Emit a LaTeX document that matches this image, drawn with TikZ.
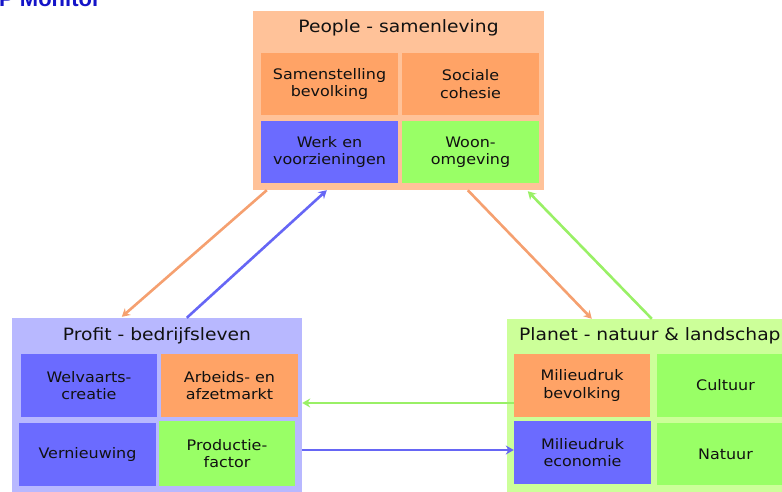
\documentclass[tikz,border=0pt]{standalone}
\usepackage{fontspec}
\setmainfont{DejaVu Sans}[FakeStretch=1.1]
\newfontfamily\cellfont{DejaVu Sans}[FakeStretch=1.1]
\newfontfamily\logofont{Liberation Sans}
\usetikzlibrary{arrows.meta}
\definecolor{peopleBg}{HTML}{FFC299}
\definecolor{profitBg}{HTML}{B8B8FF}
\definecolor{planetBg}{HTML}{CCFF99}
\definecolor{cOrange}{HTML}{FFA366}
\definecolor{cBlue}{HTML}{6B6BFF}
\definecolor{cGreen}{HTML}{99FF66}
\definecolor{aOrange}{HTML}{F5A070}
\definecolor{aBlue}{HTML}{6666F5}
\definecolor{aGreen}{HTML}{99F066}
\definecolor{txt}{HTML}{111111}
\definecolor{logoBlue}{HTML}{1414C8}
\begin{document}
\begin{tikzpicture}[x=1pt,y=-1pt,
  outer/.style={rectangle,inner sep=0pt,draw=none},
  cell/.style={rectangle,inner sep=0pt,draw=none,minimum width=137pt,minimum height=63pt,
    align=center,text=txt,font=\cellfont\fontsize{14.5}{17.5}\selectfont},
  ttl/.style={inner sep=0pt,text=txt,font=\fontsize{17}{20}\selectfont},
  conn/.style={line width=2.6pt,-{Stealth[length=8pt,width=9pt]}}]
\useasboundingbox (0,0) rectangle (782,491);
\clip (0,0) rectangle (782,491);
% logo text
\node[anchor=base west,inner sep=0pt,text=logoBlue,font=\logofont\bfseries\fontsize{22}{24}\selectfont] (logo) at (-1,6.5) {P Monitor};
% People
\node[outer,fill=peopleBg,minimum width=291pt,minimum height=179pt] (people) at (398.5,100.5) {};
\node[ttl,anchor=base] (peopleT) at (398.5,32) {People - samenleving};
\node[cell,fill=cOrange,minimum height=62pt] (samen) at (329.5,84) {Samenstelling\\bevolking};
\node[cell,fill=cOrange,minimum height=62pt] (sociale) at (470.5,84) {Sociale\\cohesie};
\node[cell,fill=cBlue,minimum height=62pt] (werk) at (329.5,152) {Werk en\\voorzieningen};
\node[cell,fill=cGreen,minimum height=62pt] (woon) at (470.5,152) {Woon-\\omgeving};
% Profit
\node[outer,fill=profitBg,minimum width=290pt,minimum height=176pt] (profit) at (157,406) {};
\node[ttl,anchor=base] (profitT) at (157,340) {Profit - bedrijfsleven};
\node[cell,fill=cBlue,minimum width=136pt] (welv) at (89,385.5) {Welvaarts-\\creatie};
\node[cell,fill=cOrange] (arb) at (229.5,385.5) {Arbeids- en\\afzetmarkt};
\node[cell,fill=cBlue] (vern) at (87.5,454.5) {Vernieuwing};
\node[cell,fill=cGreen,minimum width=136pt,minimum height=65pt] (prod) at (227,453.5) {Productie-\\factor};
% Planet
\node[outer,fill=planetBg,minimum width=290pt,minimum height=175pt] (planet) at (652,406.5) {};
\node[ttl,anchor=base west] (planetT) at (519,340) {Planet - natuur \& landschap};
\node[cell,fill=cOrange,minimum width=136pt] (mbev) at (582,385.5) {Milieudruk\\bevolking};
\node[cell,fill=cGreen] (cult) at (725.5,385.5) {Cultuur};
\node[cell,fill=cBlue] (mecon) at (582.5,452.5) {Milieudruk\\economie};
\node[cell,fill=cGreen,minimum height=62pt] (nat) at (725.5,454) {Natuur};
% connectors
\draw[conn,aOrange] ([xshift=14pt]people.south west) -- ([xshift=110pt,yshift=1pt]profit.north west);
\draw[conn,aBlue] ([xshift=175pt]profit.north west) -- ([xshift=74pt]people.south west);
\draw[conn,aOrange] ([xshift=215pt]people.south west) -- ([xshift=85pt]planet.north west);
\draw[conn,aGreen] ([xshift=145pt]planet.north west) -- ([xshift=275pt,yshift=-1pt]people.south west);
\draw[conn,aGreen] ([yshift=-17.5pt]mbev.west) -- ([yshift=3pt]profit.east);
\draw[conn,aBlue] ([yshift=-44pt]profit.east) -- ([yshift=2.5pt]mecon.west);
\end{tikzpicture}
\end{document}
